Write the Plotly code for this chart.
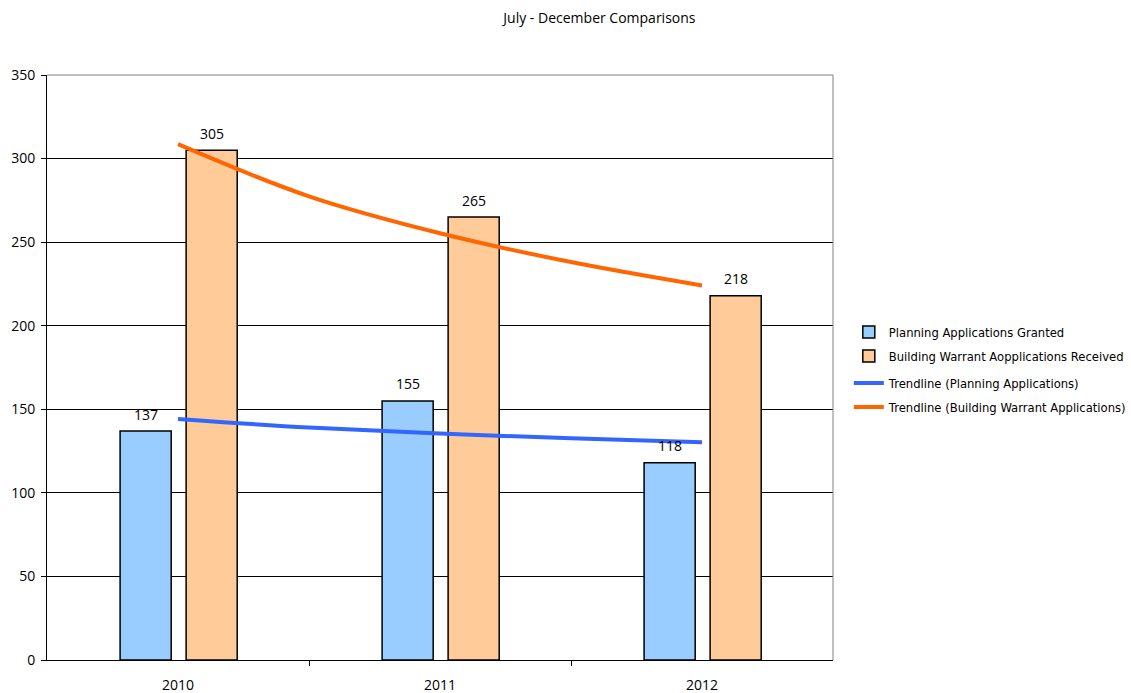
import plotly.graph_objects as go

years = ["2010", "2011", "2012"]
planning = [137, 155, 118]
building = [305, 265, 218]
# trendline points (x position in category units, value)
trend_x = [0, 0.5, 1, 1.5, 2]
trend_planning = [144.2, 139.1, 135.5, 132.6, 130.3]
trend_building = [308.6, 277.4, 255.3, 238.1, 224.1]

xpos = list(range(len(years)))
bw = 0.195
off_p = -0.221
off_b = 0.031

fig = go.Figure()
fig.add_trace(go.Bar(x=xpos, y=planning, name="Planning Applications Granted",
                     width=bw, offset=off_p, legend="legend",
                     marker=dict(color="#99CCFF", line=dict(color="black", width=1.5))))
fig.add_trace(go.Bar(x=xpos, y=building, name="Building Warrant Aopplications Received",
                     width=bw, offset=off_b, legend="legend2",
                     marker=dict(color="#FFCC99", line=dict(color="black", width=1.5))))
fig.add_trace(go.Scatter(x=trend_x, y=trend_planning, mode="lines", line_shape="spline",
                         name="Trendline (Planning Applications)", legend="legend3",
                         line=dict(color="#3366FF", width=4)))
fig.add_trace(go.Scatter(x=trend_x, y=trend_building, mode="lines", line_shape="spline",
                         name="Trendline (Building Warrant Applications)", legend="legend4",
                         line=dict(color="#FF6600", width=4)))

for i in xpos:
    fig.add_annotation(x=i + off_p + bw / 2, y=planning[i], text=str(planning[i]),
                       showarrow=False, yshift=17, font=dict(size=14, color="black"))
    fig.add_annotation(x=i + off_b + bw / 2, y=building[i], text=str(building[i]),
                       showarrow=False, yshift=17, font=dict(size=14, color="black"))

def leg(ypix):
    return dict(x=0.7505, y=1 - ypix / 693, xref="container", yref="container",
                xanchor="left", yanchor="middle",
                font=dict(family="DejaVu Sans", size=11.6), tracegroupgap=0,
                itemwidth=30, bgcolor="rgba(0,0,0,0)")

fig.update_layout(
    width=1131, height=693,
    margin=dict(l=47, r=298, t=75, b=33, autoexpand=False),
    paper_bgcolor="white", plot_bgcolor="white",
    font=dict(family="Open Sans", size=14, color="black"),
    title=dict(text="July - December Comparisons", x=0.53, xref="container",
               y=0.974, yref="container", xanchor="center", yanchor="middle",
               font=dict(size=14, family="Open Sans")),
    showlegend=True,
    legend=leg(332), legend2=leg(356), legend3=leg(383), legend4=leg(407),
    xaxis=dict(range=[-0.5, 2.5], tickvals=xpos, ticktext=years, ticks="",
               showgrid=False, zeroline=False, showline=True, linecolor="black",
               linewidth=1, mirror=False, ticklabelstandoff=12, automargin=False,
               minor=dict(tickvals=[0.5, 1.5], ticks="outside", ticklen=5,
                          tickcolor="black", showgrid=False),
               tickfont=dict(size=14)),
    yaxis=dict(range=[0, 350], dtick=50, ticks="outside", ticklen=5, tickcolor="black",
               showgrid=True, gridcolor="black", gridwidth=1, zeroline=False,
               showline=True, linecolor="black", linewidth=1, ticklabelstandoff=3,
               automargin=False, tickfont=dict(size=14)),
)
# plot area border (top and right) in grey
fig.add_shape(type="line", xref="paper", yref="paper", x0=0, x1=1, y0=1, y1=1,
              line=dict(color="#808080", width=1))
fig.add_shape(type="line", xref="paper", yref="paper", x0=1, x1=1, y0=0, y1=1,
              line=dict(color="#808080", width=1))

fig.write_html("out.html")
